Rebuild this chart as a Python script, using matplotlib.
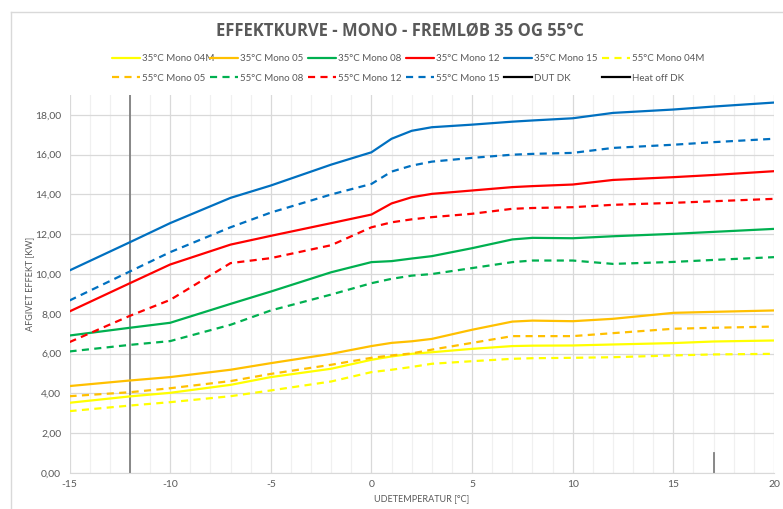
import matplotlib
matplotlib.use("Agg")
import matplotlib.pyplot as plt
from matplotlib.lines import Line2D

plt.rcParams['font.family'] = ['Lato', 'DejaVu Sans']

temps = [-15, -12, -10, -7, -5, -2, 0, 1, 2, 3, 5, 7, 8, 10, 12, 15, 17, 20]

mono04m_35 = [3.53, 3.85, 4.03, 4.43, 4.82, 5.24, 5.69, 5.86, 5.99, 6.07, 6.24, 6.38, 6.40, 6.41, 6.46, 6.53, 6.61, 6.66]
mono05_35 = [4.37, 4.65, 4.82, 5.19, 5.52, 5.99, 6.38, 6.54, 6.62, 6.74, 7.20, 7.61, 7.66, 7.63, 7.75, 8.05, 8.10, 8.17]
mono08_35 = [6.91, 7.30, 7.55, 8.50, 9.12, 10.09, 10.60, 10.65, 10.78, 10.90, 11.30, 11.74, 11.82, 11.80, 11.90, 12.02, 12.12, 12.27]
mono12_35 = [8.12, 9.54, 10.48, 11.48, 11.92, 12.56, 12.99, 13.55, 13.86, 14.03, 14.20, 14.37, 14.42, 14.50, 14.73, 14.87, 14.98, 15.17]
mono15_35 = [10.18, 11.60, 12.56, 13.83, 14.45, 15.50, 16.12, 16.80, 17.20, 17.38, 17.51, 17.66, 17.72, 17.83, 18.10, 18.27, 18.42, 18.62]

mono04m_55 = [3.11, 3.39, 3.56, 3.86, 4.15, 4.60, 5.07, 5.19, 5.33, 5.49, 5.62, 5.74, 5.77, 5.79, 5.82, 5.91, 5.96, 5.99]
mono05_55 = [3.86, 4.06, 4.26, 4.62, 4.98, 5.44, 5.79, 5.91, 6.01, 6.20, 6.54, 6.88, 6.88, 6.88, 7.03, 7.25, 7.30, 7.36]
mono08_55 = [6.11, 6.44, 6.63, 7.45, 8.17, 8.97, 9.54, 9.76, 9.92, 10.00, 10.30, 10.60, 10.68, 10.68, 10.51, 10.61, 10.71, 10.85]
mono12_55 = [6.58, 7.90, 8.70, 10.55, 10.80, 11.45, 12.35, 12.60, 12.75, 12.86, 13.03, 13.28, 13.32, 13.36, 13.48, 13.58, 13.66, 13.78]
mono15_55 = [8.67, 10.13, 11.10, 12.35, 13.09, 14.00, 14.53, 15.15, 15.45, 15.65, 15.84, 16.00, 16.04, 16.09, 16.34, 16.50, 16.63, 16.80]

dut_x = [-12, -12]
dut_y = [0, 19]
heatoff_x = [17, 17]
heatoff_y = [0, 1]

labels = ["35°C Mono 04M", "35°C Mono 05", "35°C Mono 08", "35°C Mono 12", "35°C Mono 15",
          "55°C Mono 04M", "55°C Mono 05", "55°C Mono 08", "55°C Mono 12", "55°C Mono 15",
          "DUT DK", "Heat off DK"]
xticks = [-15, -10, -5, 0, 5, 10, 15, 20]
yticks = [0, 2, 4, 6, 8, 10, 12, 14, 16, 18]

colors = ['#FFFF00', '#FFC000', '#00B050', '#FF0000', '#0070C0']
series35 = [mono04m_35, mono05_35, mono08_35, mono12_35, mono15_35]
series55 = [mono04m_55, mono05_55, mono08_55, mono12_55, mono15_55]

W, H = 783, 509
fig = plt.figure(figsize=(W / 100, H / 100), dpi=100)
ax = fig.add_axes([69.5 / W, 1 - 473 / H, (774 - 69.5) / W, (473 - 95) / H])

txtc = '#595959'
lw = 1.6
handles = []
for s, c, lab in zip(series35, colors, labels[:5]):
    h, = ax.plot(temps, s, color=c, lw=lw, solid_capstyle='round', solid_joinstyle='round', label=lab, zorder=3)
    handles.append(h)
for s, c, lab in zip(series55, colors, labels[5:10]):
    h, = ax.plot(temps, s, color=c, lw=lw, ls=(0, (3.2, 2.4)), label=lab, zorder=3)
    handles.append(h)
ax.plot(dut_x, dut_y, color='#7f7f7f', lw=1.3, zorder=2)
ax.plot(heatoff_x, heatoff_y, color='#7f7f7f', lw=1.3, zorder=2)
handles.append(Line2D([], [], color='black', lw=lw))
handles.append(Line2D([], [], color='black', lw=lw))

ax.set_xlim(-15, 20)
ax.set_ylim(0, 19)
ax.set_xticks(xticks)
ax.set_xticklabels([str(t) for t in xticks])
ax.set_xticks(range(-15, 21), minor=True)
ax.set_yticks(yticks)
ax.set_yticklabels([f"{t:.2f}".replace('.', ',') for t in yticks])
ax.grid(which='major', axis='both', color='#d9d9d9', lw=0.9, zorder=0)
ax.grid(which='minor', axis='x', color='#f0f0f0', lw=0.9, zorder=0)
ax.set_axisbelow(True)
for sp in ['top', 'right', 'left']:
    ax.spines[sp].set_visible(False)
ax.spines['bottom'].set_color('#d9d9d9')
ax.tick_params(which='both', length=0, colors=txtc, labelsize=7.5)
ax.tick_params(axis='x', pad=5)
ax.tick_params(axis='y', pad=6)
ax.set_xlabel("UDETEMPERATUR [°C]", fontsize=6.5, color=txtc, labelpad=4)
ax.set_ylabel("AFGIVET EFFEKT [KW]", fontsize=6.5, color=txtc)
ax.yaxis.set_label_coords((34 - 69.5) / (774 - 69.5), 0.5)

fig.text(400 / W, 1 - 31 / H, "EFFEKTKURVE - MONO - FREMLØB 35 OG 55°C", ha='center', va='center',
         fontsize=12, fontweight='bold', color=txtc, family=['Open Sans', 'DejaVu Sans'])

col_x = [112, 210, 308, 406, 504, 602]
for i in range(6):
    hs = [handles[i], handles[i + 6]]
    ls_ = [labels[i], labels[i + 6]]
    fig.legend(hs, ls_, loc='upper left', bbox_to_anchor=(col_x[i] / W, 1 - 54 / H),
               frameon=False, fontsize=7, handlelength=2.85, handletextpad=0.2,
               borderpad=0, borderaxespad=0, labelspacing=1.1, labelcolor=txtc)

fig.add_artist(Line2D([11 / W, 11 / W], [0, 1 - 12 / H], color='#d9d9d9', lw=1.0, transform=fig.transFigure))
fig.add_artist(Line2D([11 / W, 1], [1 - 12 / H, 1 - 12 / H], color='#d9d9d9', lw=1.0, transform=fig.transFigure))

fig.savefig("out.png", dpi=100)
